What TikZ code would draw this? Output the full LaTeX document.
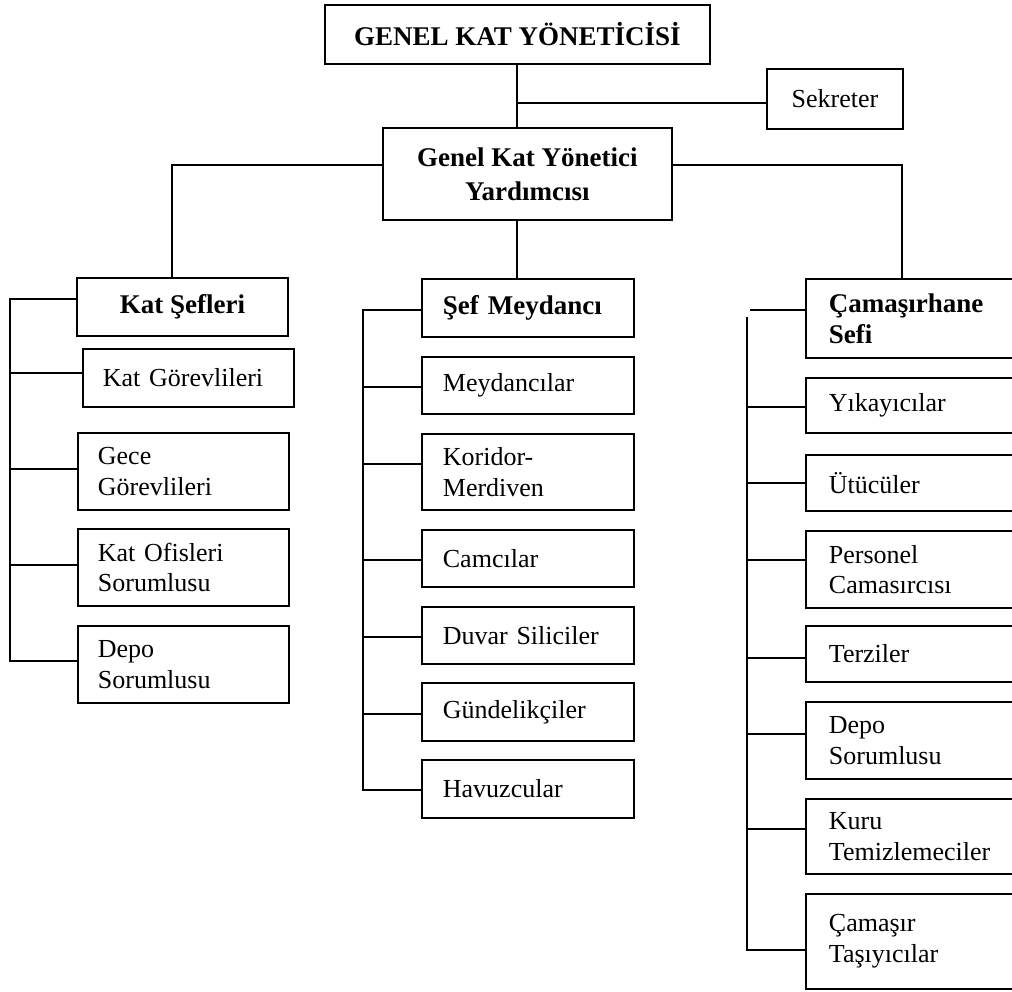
\documentclass[tikz,border=0pt]{standalone}
\usepackage{fontspec}
\setmainfont{Liberation Serif}
\begin{document}
\begin{tikzpicture}[x=1pt,y=-1pt,
  bx/.style={draw, line width=1.8pt, anchor=north west, inner ysep=0pt,
    font=\fontsize{26}{30.5}\selectfont},
  bf/.style={font=\fontsize{27}{31}\selectfont\bfseries},
  ctr/.style={align=center},
  lb/.style={align=left, inner xsep=#1},
  ln/.style={line width=1.6pt}]
\useasboundingbox (0,0) rectangle (1012,991);

% top level
\node[bx, bf, ctr, minimum width=385pt, minimum height=59pt] (tp) at (324,4) {GENEL KAT YÖNETİCİSİ};
\node[bx, ctr, minimum width=136pt, minimum height=60pt] (sek) at (766,68) {Sekreter};
\node[bx, ctr, font=\fontsize{27}{34}\selectfont\bfseries, minimum width=289pt, minimum height=92pt] (gk) at (382,127) {Genel Kat Yönetici\\Yardımcısı};

% left column
\node[bx, bf, ctr, minimum width=211pt, minimum height=58pt] (ks) at (76,277) {Kat Şefleri};
\node[bx, lb=20pt, text width=171pt, minimum width=211pt, minimum height=58pt] (kg) at (82,348) {Kat Görevlileri};
\node[bx, lb=20pt, text width=171pt, minimum width=211pt, minimum height=77pt] (gg) at (77,432) {Gece\\Görevlileri};
\node[bx, lb=20pt, text width=171pt, minimum width=211pt, minimum height=77pt] (ko) at (77,528) {Kat Ofisleri\\Sorumlusu};
\node[bx, lb=20pt, text width=171pt, minimum width=211pt, minimum height=77pt] (d1) at (77,625) {Depo\\Sorumlusu};

% middle column
\node[bx, bf, lb=21pt, text width=170pt, minimum width=212pt, minimum height=58pt] (sm) at (421,278) {Şef Meydancı};
\node[bx, lb=21pt, text width=170pt, minimum width=212pt, minimum height=57pt] (m1) at (421,356) {Meydancılar};
\node[bx, lb=21pt, text width=170pt, minimum width=212pt, minimum height=76pt] (m2) at (421,433) {Koridor-\\Merdiven};
\node[bx, lb=21pt, text width=170pt, minimum width=212pt, minimum height=57pt] (m3) at (421,529) {Camcılar};
\node[bx, lb=21pt, text width=170pt, minimum width=212pt, minimum height=57pt] (m4) at (421,606) {Duvar Siliciler};
\node[bx, lb=21pt, text width=170pt, minimum width=212pt, minimum height=58pt] (m5) at (421,682) {Gündelikçiler};
\node[bx, lb=21pt, text width=170pt, minimum width=212pt, minimum height=58pt] (m6) at (421,759) {Havuzcular};

% right column
\node[bx, bf, lb=23pt, text width=184pt, minimum width=230pt, minimum height=79pt] (cs) at (805,278) {Çamaşırhane\\Sefi};
\node[bx, lb=23pt, text width=184pt, minimum width=230pt, minimum height=55pt] (r1) at (805,377) {Yıkayıcılar};
\node[bx, lb=23pt, text width=184pt, minimum width=230pt, minimum height=56pt] (r2) at (805,454) {Ütücüler};
\node[bx, lb=23pt, text width=184pt, minimum width=230pt, minimum height=77pt] (r3) at (805,530) {Personel\\Camasırcısı};
\node[bx, lb=23pt, text width=184pt, minimum width=230pt, minimum height=56pt] (r4) at (805,625) {Terziler};
\node[bx, lb=23pt, text width=184pt, minimum width=230pt, minimum height=77pt] (r5) at (805,701) {Depo\\Sorumlusu};
\node[bx, lb=23pt, text width=184pt, minimum width=230pt, minimum height=75pt] (r6) at (805,798) {Kuru\\Temizlemeciler};
\node[bx, lb=23pt, text width=184pt, minimum width=230pt, minimum height=95pt] (r7) at (805,893) {Çamaşır\\Taşıyıcılar};

% upper connectors
\coordinate (j1) at (517,103);
\coordinate (jl) at (172,165);
\coordinate (jr) at (902,165);
\draw[ln] (tp.south -| j1) -- (gk.north -| j1);
\draw[ln] (j1) -- (sek.west |- j1);
\draw[ln] (gk.west |- jl) -- (jl) -- (ks.north -| jl);
\draw[ln] (gk.east |- jr) -- (jr) -- (cs.north -| jr);
\draw[ln] (gk.south -| j1) -- (sm.north -| j1);

% left bracket
\coordinate (l0) at (10,299);
\coordinate (l1) at (10,373);
\coordinate (l2) at (10,469);
\coordinate (l3) at (10,565);
\coordinate (l4) at (10,661);
\draw[ln] (ks.west |- l0) -- (l0) -- (l4) -- (d1.west |- l4);
\draw[ln] (l1) -- (kg.west |- l1);
\draw[ln] (l2) -- (gg.west |- l2);
\draw[ln] (l3) -- (ko.west |- l3);

% middle bracket
\coordinate (c0) at (363,310);
\coordinate (c1) at (363,387);
\coordinate (c2) at (363,464);
\coordinate (c3) at (363,560);
\coordinate (c4) at (363,637);
\coordinate (c5) at (363,714);
\coordinate (c6) at (363,790);
\draw[ln] (sm.west |- c0) -- (c0) -- (c6) -- (m6.west |- c6);
\draw[ln] (c1) -- (m1.west |- c1);
\draw[ln] (c2) -- (m2.west |- c2);
\draw[ln] (c3) -- (m3.west |- c3);
\draw[ln] (c4) -- (m4.west |- c4);
\draw[ln] (c5) -- (m5.west |- c5);

% right bracket
\coordinate (s0) at (750,310);
\coordinate (rt) at (747,317);
\coordinate (r1c) at (747,407);
\coordinate (r2c) at (747,483);
\coordinate (r3c) at (747,560);
\coordinate (r4c) at (747,658);
\coordinate (r5c) at (747,734);
\coordinate (r6c) at (747,829);
\coordinate (r7c) at (747,950);
\draw[ln] (s0) -- (cs.west |- s0);
\draw[ln] (rt) -- (r7c) -- (r7.west |- r7c);
\draw[ln] (r1c) -- (r1.west |- r1c);
\draw[ln] (r2c) -- (r2.west |- r2c);
\draw[ln] (r3c) -- (r3.west |- r3c);
\draw[ln] (r4c) -- (r4.west |- r4c);
\draw[ln] (r5c) -- (r5.west |- r5c);
\draw[ln] (r6c) -- (r6.west |- r6c);
\end{tikzpicture}
\end{document}
